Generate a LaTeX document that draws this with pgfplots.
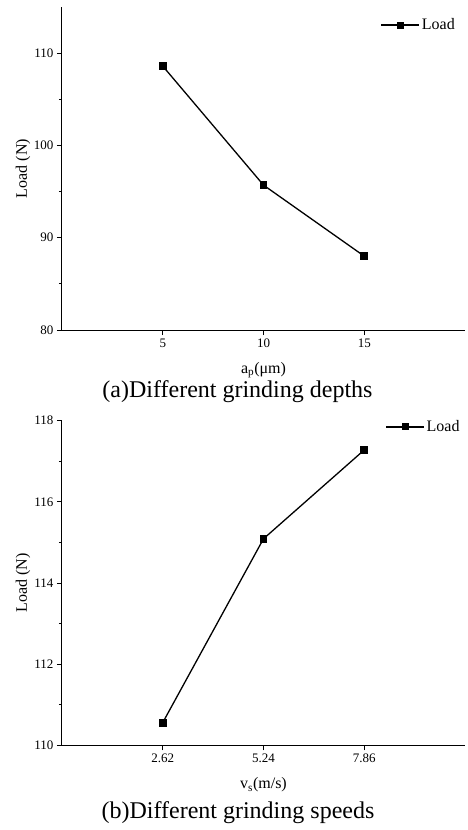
\documentclass[border=0pt]{standalone}
\usepackage{fontspec}
\setmainfont{Liberation Serif}
\usepackage{pgfplots}
\pgfplotsset{compat=1.18}
\begin{document}
\begin{tikzpicture}[x=1pt,y=1pt]
\useasboundingbox (0,0) rectangle (467,-830);
\pgfplotsset{
  myax/.style={
    scale only axis,
    width=403pt,
    axis lines*=left,
    axis line style={-, line width=1pt},
    tick align=outside,
    major tick length=5pt,
    minor tick length=3pt,
    tick style={line width=0.9pt, black},
    xtick pos=bottom, ytick pos=left,
    minor y tick num=1,
    /pgf/number format/assume math mode=true,
    tick label style={font=\fontsize{13}{15}\selectfont},
    label style={font=\fontsize{16}{18}\selectfont},
    legend style={draw=none, fill=none, font=\fontsize{16}{18}\selectfont, inner sep=0pt, anchor=west},
    legend image code/.code={\draw[mark repeat=2,mark phase=2,#1,mark size=2.8pt] plot coordinates {(0pt,0pt)(19pt,0pt)(38pt,0pt)};},
    y label style={at={(axis description cs:-0.097,0.5)}, anchor=center, rotate=0},
  },
}
% (a)
\begin{axis}[myax, at={(62pt,-330pt)}, anchor=origin, height=323pt,
  xmin=0, xmax=20, ymin=80, ymax=115,
  xtick={5,10,15}, ytick={80,90,100,110},
  xlabel={a\textsubscript{p}(μm)}, ylabel={Load (N)},
  x label style={at={(axis description cs:0.5,-0.124)}, anchor=center},
  legend style={at={(axis description cs:0.79,0.944)}},
]
\addplot[black, line width=1.3pt, mark=square*, mark size=3.3pt] coordinates {(5,108.6) (10,95.7) (15,88.0)};
\addlegendentry{Load}
\end{axis}
\node[font=\fontsize{24}{28}\selectfont] at (237.5,-392) {(a)Different grinding depths};
% (b)
\begin{axis}[myax, at={(62pt,-745.3pt)}, anchor=origin, height=324.6pt,
  xmin=0, xmax=10.48, ymin=110, ymax=118,
  xtick={2.62,5.24,7.86}, xticklabels={2.62,5.24,7.86}, ytick={110,112,114,116,118},
  xlabel={v\textsubscript{s}(m/s)}, ylabel={Load (N)},
  x label style={at={(axis description cs:0.5,-0.122)}, anchor=center},
  legend style={at={(axis description cs:0.802,0.981)}},
]
\addplot[black, line width=1.3pt, mark=square*, mark size=3.3pt] coordinates {(2.62,110.56) (5.24,115.09) (7.86,117.28)};
\addlegendentry{Load}
\end{axis}
\node[font=\fontsize{24}{28}\selectfont] at (238,-813) {(b)Different grinding speeds};
\end{tikzpicture}
\end{document}
